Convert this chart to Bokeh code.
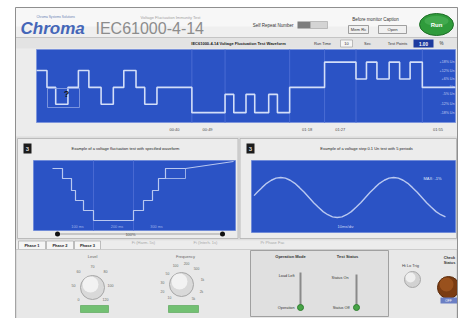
from bokeh.plotting import figure
from bokeh.models import Range1d
from bokeh.embed import file_html
from bokeh.resources import INLINE
from bokeh.core.properties import value

# ---------------- data ----------------
# main waveform: level changes (s) and level of each segment (% of Un)
main_t = [0, 3, 5.5, 9, 12, 15, 18.5, 22, 25, 28.5, 31, 34.5, 44.5, 54, 56.5, 60,
          62.5, 66.5, 69, 72.5, 82.5, 91.5, 94.5, 97.5, 101, 104, 107, 110.5, 120]
main_level = [112, 100, 88, 100, 112, 100, 88, 100, 112, 100, 88, 100, 82, 95, 82,
              95, 82, 95, 82, 100, 118, 106, 118, 106, 118, 106, 118, 100]
main_grid_t = [44.5, 54, 72.5, 82.5, 91.5, 110.5]
main_tick_t = [39.5, 49, 77.5, 87, 115]
main_tick_labels = ["00:40", "00:49", "01:18", "01:27", "01:55"]
main_level_values = [118, 112, 106, 100, 95, 88, 82]
main_level_labels = ["+18% Un", "+12% Un", "+6% Un", "Un", "-5% Un", "-12% Un", "-18% Un"]

# left panel: staircase (ms, % of Un)
left_t = [38, 58, 76, 84, 100, 120, 200, 220, 238, 250, 264, 304]
left_v = [100, 95, 89, 84, 79, 74, 79, 84, 89, 95, 100]
left_ramp_t = [304, 400]
left_ramp_v = [100, 103.5]
left_grid_t = [120, 200]
left_tick_t = [88, 167, 246]
left_tick_labels = ["100 ms", "200 ms", "300 ms"]

# right panel: sine (degrees, V)
sine_deg = [5, 15, 30, 45, 60, 75, 90, 105, 120, 135, 150, 165, 180, 195, 210, 225,
            240, 255, 270, 285, 300, 315, 330, 345, 360, 375, 390, 405, 420, 435, 450,
            465, 480, 495, 510, 525, 540, 555, 570, 585, 600, 615]
sine_v = [30, 85, 160, 230, 280, 315, 325, 315, 280, 230, 160, 85, 0, -85, -160, -230,
          -280, -315, -325, -315, -280, -230, -160, -85, 0, 85, 160, 230, 280, 315, 325,
          315, 280, 230, 160, 85, 0, -85, -160, -230, -280, -315]

knob1_labels = ["0", "50", "60", "70", "80", "100", "120"]
knob2_labels = ["10", "20", "30", "50", "100", "200", "500", "1k", "2k", "5k"]

# ---------------- canvas (pixel-like coordinates) ----------------
FX0, FX1, FY0, FY1 = 0, 466, 0, 318
W, H = FX1 - FX0, FY1 - FY0

p = figure(width=W, height=H, x_range=Range1d(FX0, FX1), y_range=Range1d(FY1, FY0),
           x_axis_type=None, y_axis_type=None, toolbar_location=None,
           output_backend="svg", min_border=0, outline_line_color=None,
           background_fill_color="white", border_fill_color="white")
p.grid.visible = False

xr, yr = {}, {}


def panel(name, px0, px1, dx0, dx1, py_top, py_bot, dy_bot, dy_top):
    kx = (px1 - px0) / (dx1 - dx0)
    xs = dx0 - (px0 - FX0) / kx
    xr[name] = Range1d(xs, xs + W / kx)
    ky = (py_bot - py_top) / (dy_top - dy_bot)
    ys = dy_bot - (FY1 - py_bot) / ky
    yr[name] = Range1d(ys, ys + H / ky)


panel("main", 36, 455, 0, 120, 49, 122, 75, 127)
panel("left", 33, 235, 0, 404, 160, 230, 69, 104)
panel("sine", 252, 455, 0, 647, 160, 232, -569, 601)
p.extra_x_ranges = xr
p.extra_y_ranges = yr

FONT = "Liberation Sans"


def T(x, y, s, size=4.5, color="#333333", align="left", style="normal",
      font=FONT, xn="default", yn="default"):
    xs = list(x) if isinstance(x, (list, tuple)) else None
    ys = list(y) if isinstance(y, (list, tuple)) else None
    n = len(xs) if xs else (len(ys) if ys else 1)
    xs = xs or [x] * n
    ys = ys or [y] * n
    ss = list(s) if isinstance(s, (list, tuple)) else [s] * n
    p.text(x=xs, y=ys, text=ss, text_font=value(font), text_font_size=f"{size}px",
           text_color=color, text_align=align, text_baseline="middle",
           text_font_style=style, x_range_name=xn, y_range_name=yn)


def Q(l, r, t, b, fill, line=None, lw=1, alpha=1.0):
    p.quad(left=l, right=r, top=t, bottom=b, fill_color=fill, fill_alpha=alpha,
           line_color=line, line_width=lw)


def step_xy(ts, vs):
    xs, ys = [], []
    for i, v in enumerate(vs):
        xs += [ts[i], ts[i + 1]]
        ys += [v, v]
    return xs, ys


BLUE = "#2b53c5"

# ---------------- frame ----------------
Q(15, 457, 7, 318, "#e7e7e7", "#8f8f8f")
Q(15.5, 456.5, 7.5, 37, "#f7f7f7")
Q(15.5, 456.5, 26, 37, "#efefef")
p.segment(15.5, 37, 456.5, 37, line_color="#c4c4c4", line_width=1)

# header
T(36, 16.5, "Chroma Systems Solutions", 3.2, "#6a7fb5")
T(20, 27.5, "Chroma", 17, "#4466b8", style="bold italic")
T(95, 27.5, "IEC61000-4-14", 16, "#8c8c8c")
T(170, 17, "Voltage Fluctuation Immunity Test", 4, "#a0a0a0", "center")
T(293, 24.5, "Self Repeat Number", 4.5, "#333333", "right")
Q(297, 310, 21, 28, "#7d7d7d")
Q(310, 327, 21, 28, "#d4d4d4", "#a0a0a0", 0.6)
T(375, 19, "Before monitor Caption", 4.5, "#333333", "center")
Q(348, 368, 25, 33, "#f0f0f0", "#8a8a8a", 0.8)
T(358, 29, "Mem Rc", 4.2, "#333333", "center")
Q(378, 406, 25, 33, "#f0f0f0", "#8a8a8a", 0.8)
T(392, 29, "Open", 4.2, "#333333", "center")
p.ellipse(436, 24, width=34, height=22, fill_color="#2f9b3b", line_color="#1e6e27")
p.ellipse(436, 20.5, width=24, height=10, fill_color="#5cbd66", fill_alpha=0.45,
          line_color=None)
T(436, 24.5, "Run", 6, "white", "center", "bold")

# second row
Q(15.5, 456.5, 37.5, 48, "#e3e3e3")
T(238, 43, "IEC61000-4-14 Voltage Fluctuation Test Waveform", 4, "#1a1a1a",
  "center", "bold")
T(322, 43, "Run Time", 4, "#333333", "center")
Q(340, 352, 39.5, 46.5, "#f6f6f6", "#9a9a9a", 0.6)
T(346, 43, "10", 4, "#333333", "center")
T(367, 43, "Sec", 4, "#333333", "center")
T(397, 43, "Test Points", 4, "#333333", "center")
Q(413, 433, 39, 47, "#1d3a9e")
T(423, 43, "1.00", 4.5, "white", "center", "bold")
T(441, 43, "%", 4.5, "#333333", "center")

# ---------------- main plot ----------------
Q(15.5, 456.5, 48, 136, "#ececec")
Q(36, 455, 49, 122, BLUE, "#7d95dc", 1)
p.segment(x0=main_grid_t, y0=[75] * len(main_grid_t), x1=main_grid_t,
          y1=[127] * len(main_grid_t), line_color="#4a6cd3", line_width=1,
          x_range_name="main", y_range_name="main")
mx, my = step_xy(main_t, main_level)
p.line(mx, my, line_color="#d3def8", line_width=1.6, x_range_name="main",
       y_range_name="main")
Q(47, 79, 88, 107, None, "#8ea3e3", 0.8)
T(66, 93, "?", 9, "#111111", "center", "bold")
T([119.7] * len(main_level_values), main_level_values, main_level_labels, 3.6,
  "#c3cff2", "right", xn="main", yn="main")
T(main_tick_t, 128.5, main_tick_labels, 4, "#4a4a4a", "center", xn="main")

# ---------------- panels ----------------
Q(15.5, 456.5, 136, 240, "#dedede")
Q(17, 237.5, 138, 238, "#ececec", "#b0b0b0", 0.8)
Q(239.5, 456, 138, 238, "#ececec", "#b0b0b0", 0.8)

# left panel
Q(23, 31, 143, 153, "#1c1c1c")
T(27, 148, "3", 6, "#d8d8d8", "center", "bold")
T(125, 148, "Example of a voltage fluctuation test with specified waveform", 4,
  "#222222", "center")
Q(33, 235, 160, 230, BLUE, "#6a86d8", 0.8)
p.segment(x0=left_grid_t, y0=[69] * len(left_grid_t), x1=left_grid_t,
          y1=[104] * len(left_grid_t), line_color="#4869d2", line_width=1,
          x_range_name="left", y_range_name="left")
lx, ly = step_xy(left_t, left_v)
p.line(lx, ly, line_color="#b9c8f0", line_width=1.2, x_range_name="left",
       y_range_name="left")
p.line(left_ramp_t, left_ramp_v, line_color="#b9c8f0", line_width=1.0,
       x_range_name="left", y_range_name="left")
p.quad(left=left_t[-2], right=left_t[-1], top=left_v[-1], bottom=left_v[-2],
       fill_color=None, line_color="#b9c8f0", line_width=0.8,
       x_range_name="left", y_range_name="left")
T(left_tick_t, 226.5, left_tick_labels, 3.8, "#9fb2ea", "center", xn="left")
p.segment(57, 233.5, 222, 233.5, line_color="#a0a0a0", line_width=1)
p.scatter([57, 222], [233.5, 233.5], size=5, marker="circle", fill_color="#111111",
          line_color=None)
T(130, 233.5, "100%", 4, "#555555", "center")

# right panel
Q(246, 254, 143, 153, "#1c1c1c")
T(250, 148, "3", 6, "#d8d8d8", "center", "bold")
T(366, 148, "Example of a voltage step 0.1 Un test with 5 periods", 4,
  "#222222", "center")
Q(251, 455, 160, 232, BLUE, "#6a86d8", 0.8)
p.line(sine_deg, sine_v, line_color="#b9c8f0", line_width=1.4,
       x_range_name="sine", y_range_name="sine")
T(432, 178, "MAX: -1%", 4, "#dfe6fa", "center")
T(345, 226, "10ms/div", 4, "#cfd9f5", "center")

# ---------------- bottom controls ----------------
Q(15.5, 456.5, 240, 249, "#ececec")
for l, r, s in [(18, 45, "Phase 1"), (46, 73, "Phase 2"), (74, 100, "Phase 3")]:
    Q(l, r, 240.5, 249, "#f5f5f5", "#9a9a9a", 0.6)
    T((l + r) / 2, 244.8, s, 4, "#222222", "center", "bold")
T(143, 242, "Fi (Harm. 5s)", 4, "#a8a8a8", "center")
T(205, 242, "Fi (Interh. 1s)", 4, "#a8a8a8", "center")
T(272, 242, "Pr Phase Fac", 4, "#a8a8a8", "center")

Q(15.5, 456.5, 249, 318, "#e8e8e8", "#c4c4c4", 0.8)

# knob 1
T(92, 256, "Level", 4, "#666666", "center")
for (dx, dy), s in zip([(-14, 12), (-19, -2), (-14, -16), (0, -21), (13, -16),
                        (18, -2), (13, 12)], knob1_labels):
    T(92 + dx, 287 + dy, s, 3.6, "#6a6a6a", "center")
p.circle(92, 287, radius=12, fill_color="#d9d9d9", line_color="#a6a6a6")
p.circle(90, 284, radius=8, fill_color="#f4f4f4", fill_alpha=0.9, line_color=None)
Q(80, 108, 305, 312, "#72c072", "#4f9f4f", 0.6)

# knob 2
T(185, 256, "Frequency", 4, "#666666", "center")
for (dx, dy), s in zip([(-12, 13), (-19, 7), (-19, -2), (-14, -11), (-6, -19),
                        (5, -21), (15, -16), (21, -5), (20, 7), (12, 14)],
                       knob2_labels):
    T(181 + dx, 284 + dy, s, 3.4, "#6a6a6a", "center")
p.circle(181, 284, radius=12, fill_color="#d9d9d9", line_color="#a6a6a6")
p.circle(179, 281, radius=8, fill_color="#f4f4f4", fill_alpha=0.9, line_color=None)
Q(168, 198, 305, 312, "#72c072", "#4f9f4f", 0.6)

# switch box
Q(250, 388, 250, 316, "#e0e0e0", "#a0a0a0", 1)
T(290, 256, "Operation Mode", 4, "#333333", "center", "bold")
T(347, 256, "Test Status", 4, "#333333", "center", "bold")
p.segment(300, 272, 300, 307, line_color="#8a8a8a", line_width=2)
p.segment(356, 274, 356, 307, line_color="#8a8a8a", line_width=2)
p.circle([300, 356], [307, 307], radius=3, fill_color="#47a447", line_color="#2f7f2f")
T(294, 275, "Load Left", 3.8, "#333333", "right")
T(294, 307, "Operation", 3.8, "#333333", "right")
T(348, 277, "Status On", 3.8, "#333333", "right")
T(349, 307, "Status Off", 3.8, "#333333", "right")

# trigger knob and status lamp
T(410, 265, "Hi Lo Trig", 4, "#444444", "center")
p.circle(412, 279, radius=8, fill_color="#d2d2d2", line_color="#a8a8a8")
p.circle(410, 277, radius=5, fill_color="#f2f2f2", fill_alpha=0.9, line_color=None)
T(449, 257, "Check", 3.8, "#333333", "center", "bold")
T(449, 262, "Status", 3.8, "#333333", "center", "bold")
p.circle(448, 287, radius=11, fill_color="#7a3c12", line_color="#5a2a0a")
p.circle(446, 284, radius=7, fill_color="#a65a22", fill_alpha=0.7, line_color=None)
Q(440, 457, 297, 303, "#6b7fc4")
T(448, 300, "OFF", 3.2, "white", "center")

# right edge of the window frame
Q(457.3, 466, 0, 318, "white")
p.segment(457, 7, 457, 318, line_color="#8f8f8f", line_width=1)

open("out.html", "w").write(file_html(p, INLINE))
